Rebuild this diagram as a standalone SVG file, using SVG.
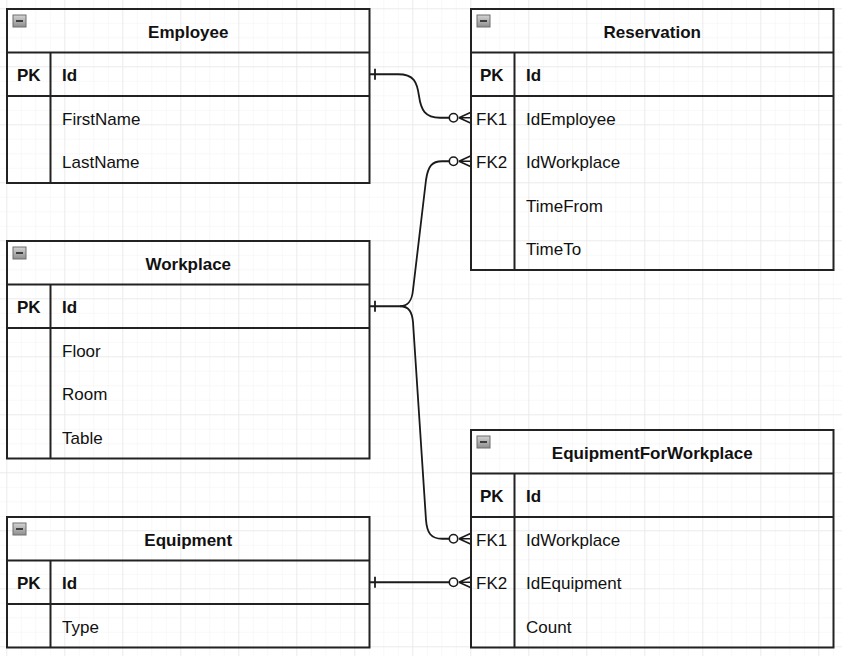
<svg xmlns="http://www.w3.org/2000/svg" width="842" height="656" viewBox="0 0 842 656">
<style>
.tb{fill:none;stroke:#222;stroke-width:2}
.ln{fill:none;stroke:#222;stroke-width:2}
.t{font-family:"Liberation Sans",Arial,sans-serif;font-size:17px;fill:#111}
.b{font-weight:bold}
.c{text-anchor:middle}
.cn{fill:none;stroke:#1a1a1a;stroke-width:1.8}
</style>
<defs>
<pattern id="minor" x="6.3" y="8.3" width="14.5" height="14.5" patternUnits="userSpaceOnUse">
<path d="M0,0 H14.5 M0,0 V14.5" stroke="#f1f1f1" stroke-width="1" fill="none"/>
</pattern>
<pattern id="major" x="6.3" y="8.3" width="58" height="58" patternUnits="userSpaceOnUse">
<path d="M0,0 H58 M0,0 V58" stroke="#e2e2e2" stroke-width="1" fill="none"/>
</pattern>
<linearGradient id="ig" x1="0" y1="0" x2="0" y2="1">
<stop offset="0" stop-color="#d4d4d4"/>
<stop offset="1" stop-color="#8e8e8e"/>
</linearGradient>
<g id="icon">
<rect x="0" y="0" width="13" height="12" fill="url(#ig)" stroke="#6e6e6e" stroke-width="1"/>
<line x1="3" y1="6" x2="10" y2="6" stroke="#222" stroke-width="1.6"/>
</g>
<g id="zeroMany">
<circle cx="-17.5" cy="0" r="4.2" fill="#fff" stroke="#1a1a1a" stroke-width="1.6"/>
<path d="M-12,0 L0,-5.5 M-12,0 L0,0 M-12,0 L0,5.5" fill="none" stroke="#1a1a1a" stroke-width="1.6"/>
</g>
<g id="one">
<line x1="0" y1="-5.5" x2="0" y2="5.5" stroke="#1a1a1a" stroke-width="1.8"/>
</g>
</defs>
<rect width="842" height="656" fill="#fff"/>
<rect width="842" height="656" fill="url(#minor)"/>
<rect width="842" height="656" fill="url(#major)"/>

<g id="connectors">
<path class="cn" d="M369.5,74.25 L398,74.25 C414,74.25 417,82 419,96 C421,110 425,117.75 440,117.75 L449,117.75"/>
<path class="cn" d="M369.5,306.25 L400,306.25 C409,306.25 412,300 413,290 L426,180 C428,166 432,161.25 442,161.25 L449,161.25"/>
<path class="cn" d="M400,306.25 C409,306.25 412,312 413,322 L426,520 C427,533 431,538.75 442,538.75 L449,538.75"/>
<path class="cn" d="M369.5,582.25 L449,582.25"/>
<use href="#one" x="375" y="74.25"/>
<use href="#one" x="375" y="306.25"/>
<use href="#one" x="375" y="582.25"/>
<use href="#zeroMany" x="471" y="117.75"/>
<use href="#zeroMany" x="471" y="161.25"/>
<use href="#zeroMany" x="471" y="538.75"/>
<use href="#zeroMany" x="471" y="582.25"/>
</g>

<g id="employee">
<rect class="tb" x="7" y="9" width="362.5" height="174"/>
<line class="ln" x1="7" y1="52.5" x2="369.5" y2="52.5"/>
<line class="ln" x1="7" y1="96" x2="369.5" y2="96"/>
<line class="ln" x1="50.5" y1="52.5" x2="50.5" y2="183"/>
<use href="#icon" x="13" y="15"/>
<text class="t b c" x="188.25" y="37.5">Employee</text>
<text class="t b" x="17" y="81">PK</text>
<text class="t b" x="62" y="81">Id</text>
<text class="t" x="62" y="124.5">FirstName</text>
<text class="t" x="62" y="168">LastName</text>
</g>

<g id="reservation">
<rect class="tb" x="471" y="9" width="362.5" height="261"/>
<line class="ln" x1="471" y1="52.5" x2="833.5" y2="52.5"/>
<line class="ln" x1="471" y1="96" x2="833.5" y2="96"/>
<line class="ln" x1="514.5" y1="52.5" x2="514.5" y2="270"/>
<use href="#icon" x="477" y="15"/>
<text class="t b c" x="652.25" y="37.5">Reservation</text>
<text class="t b" x="480" y="81">PK</text>
<text class="t b" x="526" y="81">Id</text>
<text class="t" x="476" y="124.5">FK1</text>
<text class="t" x="526" y="124.5">IdEmployee</text>
<text class="t" x="476" y="168">FK2</text>
<text class="t" x="526" y="168">IdWorkplace</text>
<text class="t" x="526" y="211.5">TimeFrom</text>
<text class="t" x="526" y="255">TimeTo</text>
</g>

<g id="workplace">
<rect class="tb" x="7" y="241" width="362.5" height="217.5"/>
<line class="ln" x1="7" y1="284.5" x2="369.5" y2="284.5"/>
<line class="ln" x1="7" y1="328" x2="369.5" y2="328"/>
<line class="ln" x1="50.5" y1="284.5" x2="50.5" y2="458.5"/>
<use href="#icon" x="13" y="247"/>
<text class="t b c" x="188.25" y="269.5">Workplace</text>
<text class="t b" x="17" y="313">PK</text>
<text class="t b" x="62" y="313">Id</text>
<text class="t" x="62" y="356.5">Floor</text>
<text class="t" x="62" y="400">Room</text>
<text class="t" x="62" y="443.5">Table</text>
</g>

<g id="equipment">
<rect class="tb" x="7" y="517" width="362.5" height="130.5"/>
<line class="ln" x1="7" y1="560.5" x2="369.5" y2="560.5"/>
<line class="ln" x1="7" y1="604" x2="369.5" y2="604"/>
<line class="ln" x1="50.5" y1="560.5" x2="50.5" y2="647.5"/>
<use href="#icon" x="13" y="523"/>
<text class="t b c" x="188.25" y="545.5">Equipment</text>
<text class="t b" x="17" y="589">PK</text>
<text class="t b" x="62" y="589">Id</text>
<text class="t" x="62" y="632.5">Type</text>
</g>

<g id="equipmentForWorkplace">
<rect class="tb" x="471" y="430" width="362.5" height="217.5"/>
<line class="ln" x1="471" y1="473.5" x2="833.5" y2="473.5"/>
<line class="ln" x1="471" y1="517" x2="833.5" y2="517"/>
<line class="ln" x1="514.5" y1="473.5" x2="514.5" y2="647.5"/>
<use href="#icon" x="477" y="436"/>
<text class="t b c" x="652.25" y="458.5">EquipmentForWorkplace</text>
<text class="t b" x="480" y="502">PK</text>
<text class="t b" x="526" y="502">Id</text>
<text class="t" x="476" y="545.5">FK1</text>
<text class="t" x="526" y="545.5">IdWorkplace</text>
<text class="t" x="476" y="589">FK2</text>
<text class="t" x="526" y="589">IdEquipment</text>
<text class="t" x="526" y="632.5">Count</text>
</g>
</svg>
